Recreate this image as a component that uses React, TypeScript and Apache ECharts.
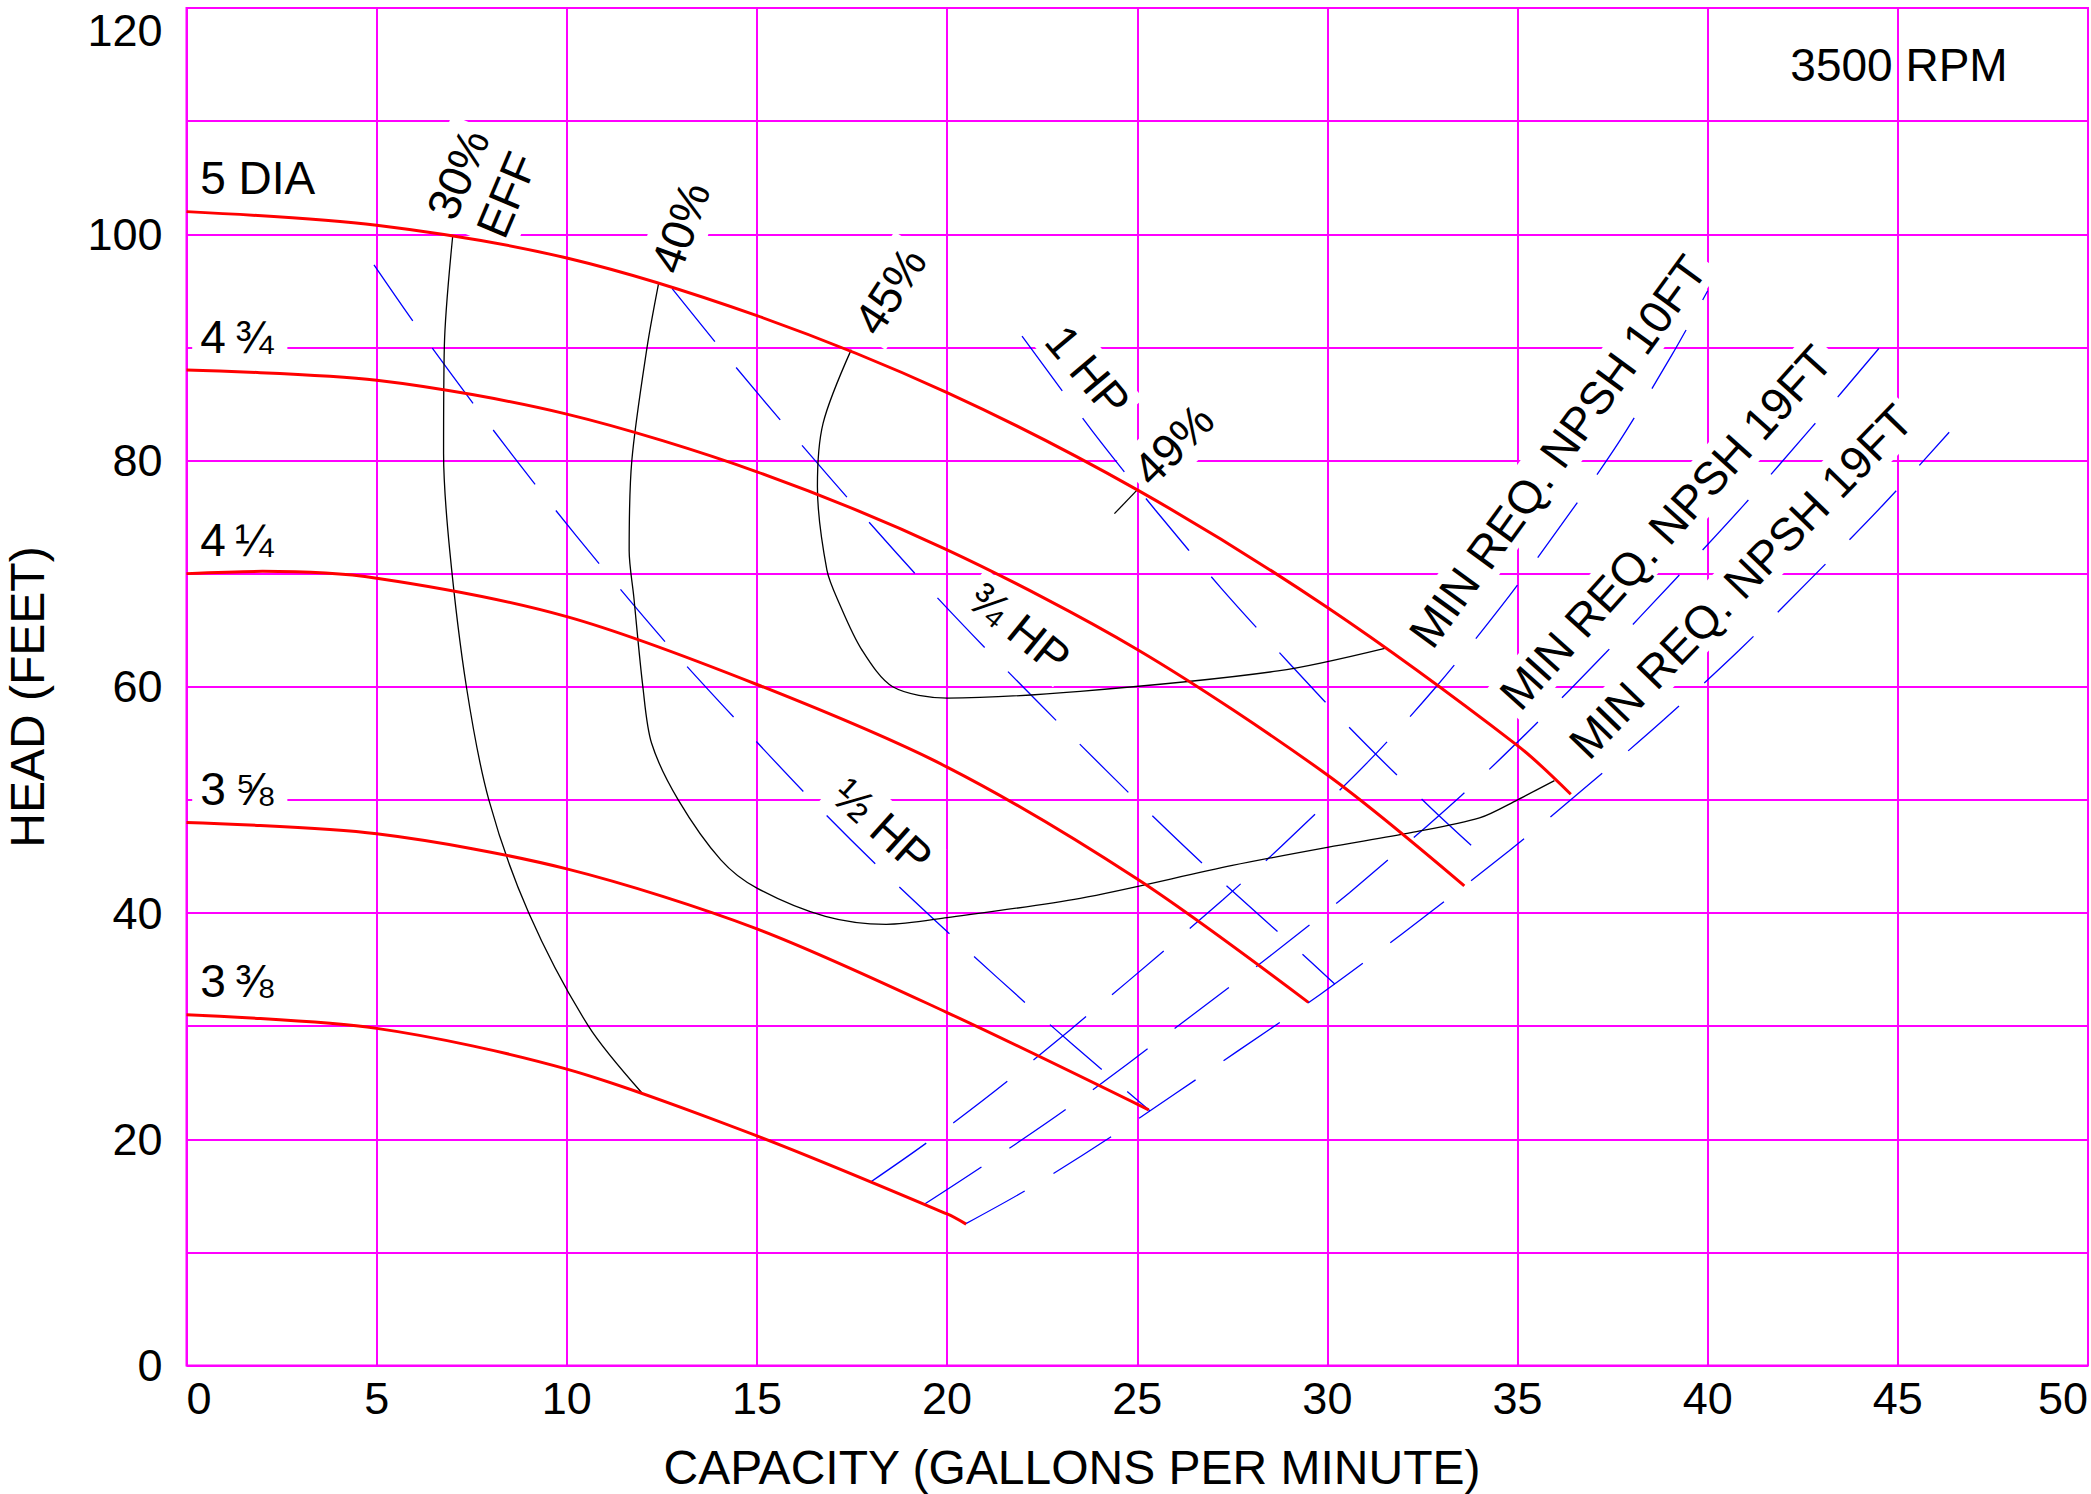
import React, { useEffect, useRef } from "react";
import * as echarts from "echarts";

const FONT = "'Liberation Sans', Arial, Helvetica, sans-serif";

// Axis ranges / ticks
const xMin = 0;
const xMax = 50;
const xStep = 5;
const yMin = 0;
const yMax = 120;
const yStep = 10;
const yLabelEvery = 20;

// Head–capacity curves per impeller diameter: [capacity gpm, head ft]
const dia5 = [[0, 102.0], [5, 100.8], [10, 97.9], [15, 92.8], [20, 86.0], [25, 77.4], [30, 67.0], [35, 54.8], [36.4, 50.5]];
const dia4_75 = [[0, 88.0], [5, 87.1], [10, 84.1], [15, 79.0], [20, 72.1], [25, 63.3], [30, 52.2], [33.6, 42.4]];
const dia4_25 = [[0, 70.0], [2, 70.2], [5, 69.6], [10, 66.2], [15, 60.2], [20, 52.9], [25, 43.0], [29.5, 32.1]];
const dia3_625 = [[0, 48.0], [5, 47.0], [10, 43.9], [15, 38.6], [20, 31.2], [25.3, 22.6]];
const dia3_375 = [[0, 31.0], [5, 29.8], [10, 26.2], [15, 20.3], [20, 13.4], [20.5, 12.5]];

// Efficiency curves
const eff30 = [[7.0, 99.85], [6.78, 90.1], [6.76, 80.6], [6.92, 72.1], [7.36, 60], [7.95, 50], [9.0, 40], [10.57, 30], [12.0, 24.0]];
const eff40 = [[12.41, 95.6], [12.11, 90], [11.71, 80], [11.64, 72], [11.76, 68], [12.0, 60], [12.23, 55], [12.93, 50], [14.05, 44.7], [15, 42.2], [16.8, 39.7], [18.4, 39.0], [20, 39.6], [23.5, 41.3], [27.5, 44.2], [30, 45.8], [32.2, 47.1], [34.0, 48.4], [35, 50], [35.97, 51.7]];
const eff45 = [[17.48, 89.8], [16.74, 83.3], [16.59, 77.7], [16.84, 70.3], [17.16, 67.4], [17.75, 63.3], [18.57, 60], [20, 59.0], [23.5, 59.6], [28.7, 61.4], [31.51, 63.4]];
const eff49 = [[24.4, 75.3], [25, 77.4]];

// Horsepower lines
const hpHalf = [[4.93, 97.3], [6.18, 91.25], [7.77, 84.0], [9.4, 76.9], [11.09, 69.9], [12.84, 63.0], [14.64, 56.4], [16.49, 49.8], [18.37, 43.5], [20.34, 37.3], [22.31, 31.3], [24.33, 25.4], [25.34, 22.5]];
const hpThreeQuarter = [[12.77, 95.2], [14.26, 89.0], [15.99, 82.1], [17.75, 75.3], [19.54, 68.6], [21.38, 62.1], [23.26, 55.7], [25.15, 49.4], [27.09, 43.2], [29.07, 37.2], [30.2, 33.7]];
const hpOne = [[21.97, 91.0], [23.82, 82.6], [25.48, 75.6], [27.21, 68.7], [28.99, 62.1], [30.81, 55.6], [32.75, 49.2], [34.33, 44.3]];

// NPSH lines
const npsh10 = [[17.98, 16.2], [19.53, 19.85], [21.65, 25.3], [24.77, 34.0], [27.26, 41.2], [28.79, 45.9], [31.08, 53.4], [32.86, 60], [34.57, 67.1], [36.15, 74.3], [37.66, 81.6], [39.07, 89.4], [40, 95]];
const npsh19a = [[19.4, 14.25], [20.97, 17.7], [23.19, 22.8], [26.34, 30.7], [28.49, 36.2], [30.58, 41.8], [33.51, 50.35], [35.45, 56.6], [37.32, 63.0], [39.15, 69.5], [40.96, 76.1], [42.73, 82.9], [44.5, 89.9]];
const npsh19b = [[20.47, 12.5], [22.18, 15.7], [24.44, 20.5], [27.6, 27.7], [29.81, 32.8], [31.96, 38.15], [34.78, 45.5], [36.82, 51.2], [38.85, 57.1], [40.82, 63.2], [42.73, 69.6], [44.59, 76.0], [46.35, 82.5]];

// Labels (anchors in data units)
const diaLabelText = ["5 DIA", "4\u2009¾", "4\u2009¼", "3\u2009⅝", "3\u2009⅜"];
const diaLabelAt = [[0.15, 105.0], [0.15, 90.9], [0.15, 73.0], [0.15, 51.0], [0.15, 34.0]];

const effLabelText = ["30%\nEFF", "40%", "45%", "49%"];
const effLabelAt = [[7.78, 104.4], [12.99, 100.6], [18.5, 95.0], [25.95, 81.4]];
const effLabelRot = [67, 70, 57, 45];

const hpLabelText = ["½ HP", "¾ HP", "1 HP"];
const hpLabelAt = [[18.3, 47.7], [21.9, 65.2], [23.7, 87.9]];
const hpLabelRot = [-42, -39, -50];

const npshLabelText = ["MIN REQ. NPSH 10FT", "MIN REQ. NPSH 19FT", "MIN REQ. NPSH 19FT"];
const npshLabelAt = [[36.06, 80.8], [38.9, 74.1], [40.87, 69.3]];
const npshLabelRot = [54, 48, 46];

const speedText = "3500 RPM";
const speedAt = [45.03, 115.0];

const xTitle = "CAPACITY (GALLONS PER MINUTE)";
const yTitle = "HEAD (FEET)";

const RED = "#ff0000";
const BLUE = "#0000ff";
const MAGENTA = "#ff00ff";

function line(data: number[][], color: string, width: number, dashed: boolean, z: number) {
  return {
    type: "line",
    data,
    smooth: 0.3,
    symbol: "none",
    silent: true,
    z,
    lineStyle: { color, width, type: dashed ? [68, 34] : "solid", cap: "butt" },
    emphasis: { disabled: true },
  };
}

export default function App() {
  const ref = useRef<HTMLDivElement>(null);

  useEffect(() => {
    const chart = echarts.init(ref.current as HTMLDivElement, undefined, { renderer: "svg" });

    const labelData: any[] = [];
    diaLabelText.forEach((t, i) =>
      labelData.push({ value: diaLabelAt[i], label: { formatter: t, align: "left", padding: [2, 14, 2, 8] } })
    );
    effLabelText.forEach((t, i) =>
      labelData.push({ value: effLabelAt[i], label: { formatter: t, rotate: effLabelRot[i], lineHeight: 53 } })
    );
    hpLabelText.forEach((t, i) =>
      labelData.push({ value: hpLabelAt[i], label: { formatter: t, rotate: hpLabelRot[i] } })
    );
    npshLabelText.forEach((t, i) =>
      labelData.push({ value: npshLabelAt[i], label: { formatter: t, rotate: npshLabelRot[i] } })
    );
    labelData.push({ value: speedAt, label: { formatter: speedText, backgroundColor: "transparent" } });

    const option: any = {
      animation: false,
      backgroundColor: "#ffffff",
      textStyle: { fontFamily: FONT },
      grid: {
        left: 186.5,
        right: 3,
        top: 8,
        bottom: 128.5,
        show: true,
        borderColor: MAGENTA,
        borderWidth: 2,
        backgroundColor: "transparent",
        containLabel: false,
        outerBoundsMode: "none",
      },
      xAxis: {
        type: "value",
        min: xMin,
        max: xMax,
        interval: xStep,
        axisLine: { show: false },
        axisTick: { show: false },
        axisLabel: {
          fontSize: 45,
          color: "#000",
          fontFamily: FONT,
          margin: 10,
          alignMinLabel: "left",
          alignMaxLabel: "right",
        },
        splitLine: { show: true, lineStyle: { color: MAGENTA, width: 2 } },
      },
      yAxis: {
        type: "value",
        min: yMin,
        max: yMax,
        interval: yStep,
        axisLine: { show: false },
        axisTick: { show: false },
        axisLabel: {
          fontSize: 45,
          color: "#000",
          fontFamily: FONT,
          margin: 24,
          formatter: (v: number) => (v % yLabelEvery === 0 ? String(v) : ""),
          verticalAlignMaxLabel: "top",
        },
        splitLine: { show: true, lineStyle: { color: MAGENTA, width: 2 } },
      },
      graphic: [
        {
          type: "text",
          x: 1072,
          y: 1467,
          style: {
            text: xTitle,
            fontSize: 48,
            fontFamily: FONT,
            fill: "#000",
            align: "center",
            verticalAlign: "middle",
          },
        },
        {
          type: "text",
          x: 27,
          y: 697,
          rotation: Math.PI / 2,
          style: {
            text: yTitle,
            fontSize: 48,
            fontFamily: FONT,
            fill: "#000",
            align: "center",
            verticalAlign: "middle",
          },
        },
      ],
      series: [
        line(hpHalf, BLUE, 1.3, true, 2),
        line(hpThreeQuarter, BLUE, 1.3, true, 2),
        line(hpOne, BLUE, 1.3, true, 2),
        line(npsh10, BLUE, 1.3, true, 2),
        line(npsh19a, BLUE, 1.3, true, 2),
        line(npsh19b, BLUE, 1.3, true, 2),
        line(eff30, "#000", 1.3, false, 3),
        line(eff40, "#000", 1.3, false, 3),
        line(eff45, "#000", 1.3, false, 3),
        line(eff49, "#000", 1.3, false, 3),
        line(dia5, RED, 3, false, 4),
        line(dia4_75, RED, 3, false, 4),
        line(dia4_25, RED, 3, false, 4),
        line(dia3_625, RED, 3, false, 4),
        line(dia3_375, RED, 3, false, 4),
        {
          type: "scatter",
          z: 1,
          silent: true,
          symbolSize: 1,
          itemStyle: { color: "rgba(0,0,0,0)" },
          emphasis: { disabled: true },
          label: {
            show: true,
            position: "inside",
            color: "#000",
            fontFamily: FONT,
            fontSize: 46,
            backgroundColor: "#ffffff",
            padding: [2, 6],
            textBorderColor: "transparent",
            textBorderWidth: 0,
            opacity: 1,
          },
          data: labelData,
        },
      ],
    };

    chart.setOption(option);
    return () => chart.dispose();
  }, []);

  return (
    <div
      ref={ref}
      style={{ position: "absolute", left: 0, top: 0, width: 2091, height: 1494, background: "#fff" }}
    />
  );
}
